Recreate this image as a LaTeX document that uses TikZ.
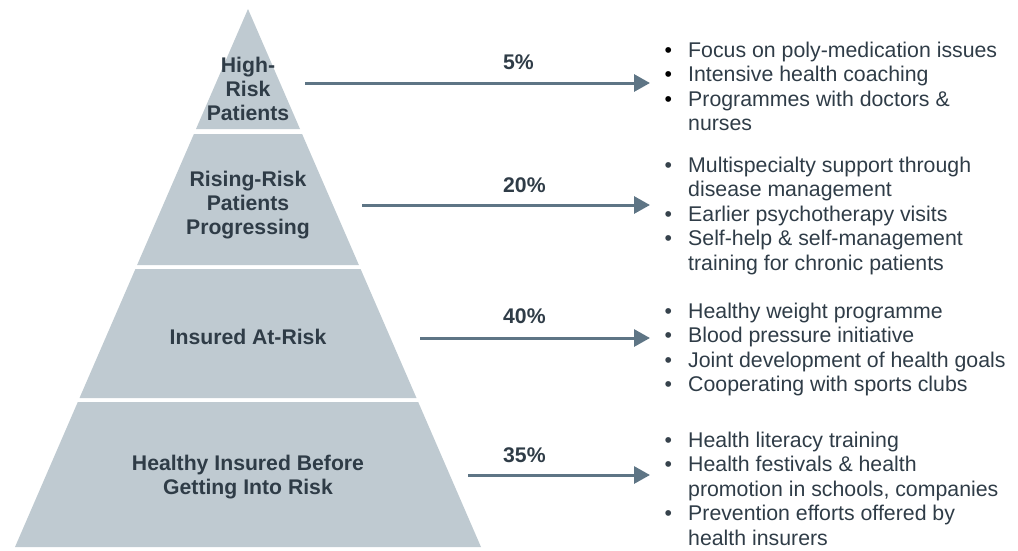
\documentclass[tikz,border=0pt]{standalone}
\usepackage{fontspec}
\setmainfont{Liberation Sans}
\usetikzlibrary{arrows.meta}

\definecolor{pyrfill}{HTML}{BFCAD1}
\definecolor{ink}{HTML}{2F3C47}
\definecolor{dotgrey}{HTML}{36424C}
\definecolor{arrowcol}{HTML}{5E7585}

% bullet followed by a fixed indent for list entries
\newcommand\listdot[1]{\makebox[23.7pt][l]{\color{#1}\textbullet}}
\newcommand\listindent{\hspace*{23.7pt}}

\begin{document}
\begin{tikzpicture}[x=1pt,y=-1pt,
  band/.style={fill=pyrfill},
  tier/.style={inner sep=0pt, anchor=base, text=ink,
    font=\fontsize{21.2}{24}\selectfont\bfseries},
  share/.style={inner sep=0pt, anchor=base west, text=ink,
    font=\fontsize{21.2}{24}\selectfont\bfseries},
  measures/.style={inner sep=0pt, anchor=base west, text=ink,
    font=\fontsize{21.3}{24.5}\selectfont},
  flow/.style={draw=arrowcol, line width=3pt,
    -{Triangle[length=16pt,width=17pt]}}]
\useasboundingbox (0,0) rectangle (1018,550);

% pyramid tiers
\fill[band] (248,9) -- (300.0,129) -- (196.0,129) -- cycle;
\fill[band] (193.9,134) -- (302.1,134) -- (358.9,265) -- (137.1,265) -- cycle;
\fill[band] (135.4,269) -- (360.6,269) -- (416.5,398) -- (79.5,398) -- cycle;
\fill[band] (77.8,402) -- (418.2,402) -- (481,547) -- (15,547) -- cycle;

% tier labels
\node[tier] (t1) at (248,72)
  {\begin{tabular}[t]{@{}c@{}}High-\\Risk\\Patients\end{tabular}};
\node[tier] (t2) at (248,186)
  {\begin{tabular}[t]{@{}c@{}}Rising-Risk\\Patients\\Progressing\end{tabular}};
\node[tier] (t3) at (248,344) {Insured At-Risk};
\node[tier] (t4) at (248,470)
  {\begin{tabular}[t]{@{}c@{}}Healthy Insured Before\\Getting Into Risk\end{tabular}};

% arrows with population shares
\coordinate (s1) at (305,83);  \coordinate (e1) at (650,83);
\coordinate (s2) at (362,205); \coordinate (e2) at (650,205);
\coordinate (s3) at (420,338); \coordinate (e3) at (650,338);
\coordinate (s4) at (468,475); \coordinate (e4) at (650,475);
\draw[flow] (s1) -- (e1);
\draw[flow] (s2) -- (e2);
\draw[flow] (s3) -- (e3);
\draw[flow] (s4) -- (e4);
\node[share] (p1) at (503,69) {5\%};
\node[share] (p2) at (503,192) {20\%};
\node[share] (p3) at (503,323) {40\%};
\node[share] (p4) at (503,462) {35\%};

% measures per tier
\node[measures] (m1) at (664.3,57) {\begin{tabular}[t]{@{}l@{}}
  \listdot{black}Focus on poly-medication issues\\
  \listdot{black}Intensive health coaching\\
  \listdot{black}Programmes with doctors \&\\
  \listindent nurses
\end{tabular}};
\node[measures] (m2) at (664.3,172) {\begin{tabular}[t]{@{}l@{}}
  \listdot{dotgrey}Multispecialty support through\\
  \listindent disease management\\
  \listdot{dotgrey}Earlier psychotherapy visits\\
  \listdot{dotgrey}Self-help \& self-management\\
  \listindent training for chronic patients
\end{tabular}};
\node[measures] (m3) at (664.3,318) {\begin{tabular}[t]{@{}l@{}}
  \listdot{dotgrey}Healthy weight programme\\
  \listdot{dotgrey}Blood pressure initiative\\
  \listdot{dotgrey}Joint development of health goals\\
  \listdot{dotgrey}Cooperating with sports clubs
\end{tabular}};
\node[measures] (m4) at (664.3,447) {\begin{tabular}[t]{@{}l@{}}
  \listdot{dotgrey}Health literacy training\\
  \listdot{dotgrey}Health festivals \& health\\
  \listindent promotion in schools, companies\\
  \listdot{dotgrey}Prevention efforts offered by\\
  \listindent health insurers
\end{tabular}};
\end{tikzpicture}
\end{document}
